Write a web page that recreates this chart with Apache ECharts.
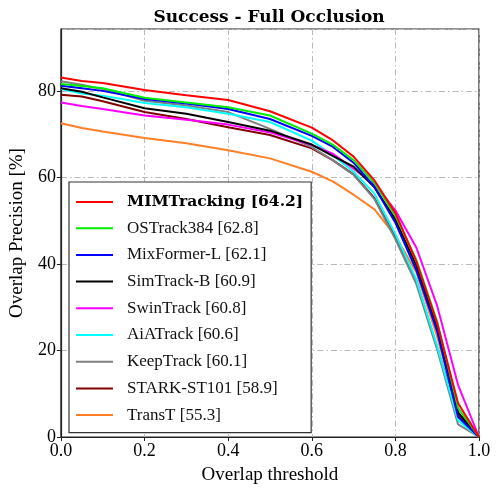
<!DOCTYPE html>
<html>
<head>
<meta charset="utf-8">
<script src="https://cdn.jsdelivr.net/npm/echarts@6/dist/echarts.min.js"></script>
<style>html,body{margin:0;padding:0;background:#fff}#c{width:496px;height:490px}</style>
</head>
<body>
<div id="c"></div>
<script>
const thresholds = [0, 0.05, 0.1, 0.2, 0.3, 0.4, 0.5, 0.6, 0.65, 0.7, 0.75, 0.8, 0.85, 0.9, 0.95, 1.0];
const names = ['MIMTracking [64.2]','OSTrack384 [62.8]','MixFormer-L [62.1]','SimTrack-B [60.9]','SwinTrack [60.8]','AiATrack [60.6]','KeepTrack [60.1]','STARK-ST101 [58.9]','TransT [55.3]'];
const mimtracking = [83.1, 82.3, 81.8, 80.2, 79.0, 77.9, 75.3, 71.5, 68.6, 64.8, 59.3, 51.8, 40.6, 26.3, 7.8, 0];
const ostrack384  = [81.6, 81.1, 80.6, 78.4, 77.3, 76.2, 74.3, 70.1, 67.6, 64.0, 58.7, 51.2, 41.0, 26.7, 6.7, 0];
const mixformerL  = [81.2, 80.6, 80.0, 78.1, 77.1, 75.8, 73.5, 69.6, 67.1, 63.4, 57.8, 49.5, 38.6, 24.4, 4.6, 0];
const simtrackB   = [80.6, 79.8, 78.5, 76.0, 74.7, 72.8, 70.8, 67.6, 65.0, 62.5, 57.7, 50.3, 39.6, 25.1, 5.7, 0];
const swintrack   = [77.3, 76.5, 75.8, 74.3, 73.3, 72.2, 70.4, 67.5, 65.5, 62.0, 58.3, 52.4, 43.8, 30.3, 12.0, 0];
const aiatrack    = [80.4, 79.4, 78.9, 77.2, 76.2, 74.7, 72.8, 68.5, 65.1, 61.3, 56.2, 46.9, 36.4, 21.0, 3.8, 0];
const keeptrack   = [82.2, 81.4, 80.4, 77.7, 76.6, 75.1, 71.2, 67.0, 64.0, 60.6, 55.0, 45.7, 35.4, 20.2, 2.9, 0];
const starkST101  = [79.1, 78.7, 77.6, 75.1, 73.5, 71.6, 69.8, 66.7, 64.0, 60.7, 55.2, 46.1, 36.2, 20.6, 5.0, 0];
const transt     = [72.5, 71.4, 70.6, 69.1, 67.9, 66.3, 64.4, 61.3, 59.1, 56.0, 52.6, 46.5, 38.1, 23.2, 5.5, 0];
const allValues = [mimtracking, ostrack384, mixformerL, simtrackB, swintrack, aiatrack, keeptrack, starkST101, transt];
const colors = ['#ff0000','#00ee00','#0000ff','#000000','#ff00ff','#00ffff','#808080','#800000','#ff7f27'];

const FONT = "'Liberation Serif', 'DejaVu Serif', serif";
const BFONT = "'DejaVu Serif', 'Liberation Serif', serif";
const chart = echarts.init(document.getElementById('c'), null, {renderer:'canvas'});
const series = allValues.map((vals, i) => ({
  name: names[i],
  type: 'line',
  symbol: 'none',
  z: 20 - i,
  lineStyle: {color: colors[i], width: 2},
  itemStyle: {color: colors[i]},
  data: thresholds.map((t, j) => [t, vals[j]])
}));
chart.setOption({
  animation: false,
  backgroundColor: '#fff',
  title: {
    text: 'Success - Full Occlusion',
    left: 264, top: 4, textAlign: 'center',
    textStyle: {fontFamily: BFONT, fontWeight: 'bold', fontSize: 17, color: '#000'}
  },
  grid: {left: 60, right: 17, top: 29, bottom: 48, show: true, borderColor: '#222', borderWidth: 1.2, backgroundColor: 'transparent'},
  legend: {
    orient: 'vertical',
    left: 69, top: 182,
    padding: [12, 8, 9, 7],
    itemWidth: 37, itemHeight: 2,
    itemGap: 9.7,
    backgroundColor: '#fff',
    borderColor: '#333', borderWidth: 1.2,
    icon: 'rect',
    data: names,
    formatter: function(n){ return n === names[0] ? '{b|' + n + '}' : '{r|' + n + '}'; },
    textStyle: {
      fontFamily: FONT, fontSize: 17, color: '#111', padding: [0,0,0,9],
      rich: {
        b: {fontFamily: BFONT, fontSize: 15.5, fontWeight: 'bold', color: '#000'},
        r: {fontFamily: FONT, fontSize: 17, color: '#111'}
      }
    }
  },
  xAxis: {
    type: 'value', min: 0, max: 1, interval: 0.2,
    name: 'Overlap threshold', nameLocation: 'middle', nameGap: 29,
    nameTextStyle: {fontFamily: FONT, fontSize: 19, color: '#000'},
    axisLine: {show: true, onZero: false, lineStyle: {color: '#222', width: 1.2}},
    axisTick: {show: true, length: 4, lineStyle: {color: '#222'}},
    axisLabel: {fontFamily: FONT, fontSize: 18, color: '#000', margin: 5, formatter: v => v.toFixed(1)},
    splitLine: {show: true, lineStyle: {color: '#b8b8b8', width: 1, type: [6, 3, 1.5, 3]}}
  },
  yAxis: {
    type: 'value', min: 0, max: 94.3, interval: 20,
    name: 'Overlap Precision [%]', nameLocation: 'middle', nameGap: 29,
    nameTextStyle: {fontFamily: FONT, fontSize: 19, color: '#000'},
    axisLine: {show: true, lineStyle: {color: '#222', width: 1.2}},
    axisTick: {show: true, length: 4, lineStyle: {color: '#222'}},
    axisLabel: {fontFamily: FONT, fontSize: 18, color: '#000', margin: 5, showMaxLabel: false,
      formatter: v => (Math.abs(v % 20) < 1e-6 ? String(v) : '')},
    splitLine: {show: true, lineStyle: {color: '#b8b8b8', width: 1, type: [6, 3, 1.5, 3]}}
  },
  series: series
});
</script>
</body>
</html>
